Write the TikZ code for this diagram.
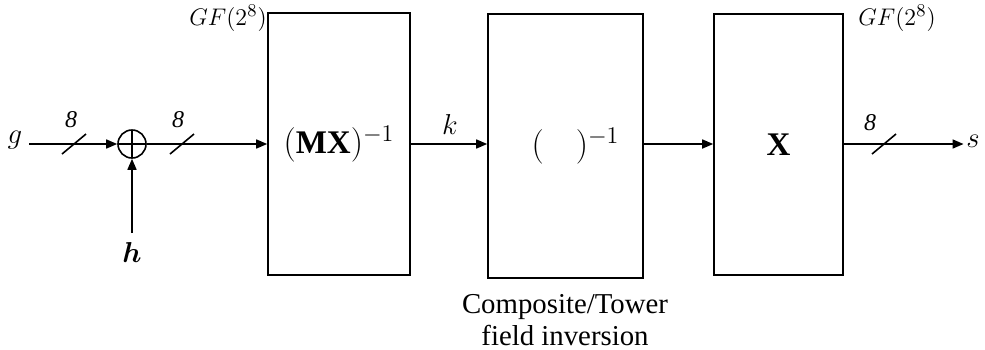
\documentclass[tikz,border=0pt]{standalone}
\usepackage{fontspec}
\setmainfont{Liberation Serif}
\usepackage{bm}
\usetikzlibrary{arrows.meta,calc}
\begin{document}
\begin{tikzpicture}[x=0.5pt,y=-0.5pt,
  line width=0.8pt,
  arr/.style={-{Triangle[length=5.5pt,width=4.5pt]}},
  blk/.style={draw, line width=0.8pt, inner sep=0pt},
  mlbl/.style={inner sep=0pt, font=\fontsize{15.5}{17}\selectfont},
  num/.style={inner sep=0pt, font=\fontsize{12}{14}\selectfont\itshape},
  gf/.style={inner sep=0pt, font=\fontsize{13}{15}\selectfont},
  xorsym/.style={circle, draw, inner sep=0pt, minimum size=14pt,
    path picture={\draw (path picture bounding box.north) -- (path picture bounding box.south)
      (path picture bounding box.west) -- (path picture bounding box.east);}},
  slash/.style={line width=0.8pt}
]
\useasboundingbox (0,0) rectangle (985,349);

% blocks
\node[blk, minimum width=71pt, minimum height=131pt, font=\fontsize{16.5}{18}\selectfont] (b1) at (339,144) {$(\mathbf{MX})^{-1}$};
\node[blk, minimum width=77.5pt, minimum height=132pt, font=\fontsize{16.5}{18}\selectfont] (b2) at (565.5,146) {\hspace{10pt}$(\hspace{16pt})^{-1}$};
\node[blk, minimum width=64.5pt, minimum height=130.5pt, font=\fontsize{16.5}{18}\selectfont] (b3) at (778.5,144.5) {$\mathbf{X}$};

% labels
\node[mlbl, inner sep=3pt] (g) at (15,140) {$g$};
\node[xorsym] (x) at (132,144) {};
\node[mlbl, inner sep=4pt] (h) at (132,252) {$\bm{h}$};
\node[mlbl, font=\fontsize{14}{16}\selectfont] (k) at (450,124) {$k$};
\node[mlbl, inner sep=1pt] (s) at (973,141) {$s$};

\node[num] (n1) at (71,120) {8};
\node[num] (n2) at (178,120) {8};
\node[num] (n3) at (870,123) {8};

\node[gf] (gf1) at (228,18) {$GF(2^8)$};
\node[gf] (gf2) at (897,18) {$GF(2^8)$};

\node[align=center, inner sep=0pt, font=\fontsize{14.4}{16}\selectfont] (cap) at (565,320) {Composite/Tower\\field inversion};

% connectors
\draw[arr] (g.east |- x.west) -- (x.west);
\draw[arr] (x.east) -- (x.east -| b1.west);
\draw[arr] (h.north) -- (x.south);
\draw[arr] (b1.east) -- (b1.east -| b2.west);
\draw[arr] (x -| b2.east) -- (x -| b3.west);
\draw[arr] (x -| b3.east) -- (x -| s.west);

% bus-width slashes
\coordinate (s1) at (74,144);
\coordinate (s2) at (182,144);
\coordinate (s3) at (884,144);
\foreach \c in {s1,s2,s3}
  \draw[slash] ($(\c)+(-12,10)$) -- ($(\c)+(12,-10)$);
\end{tikzpicture}
\end{document}
